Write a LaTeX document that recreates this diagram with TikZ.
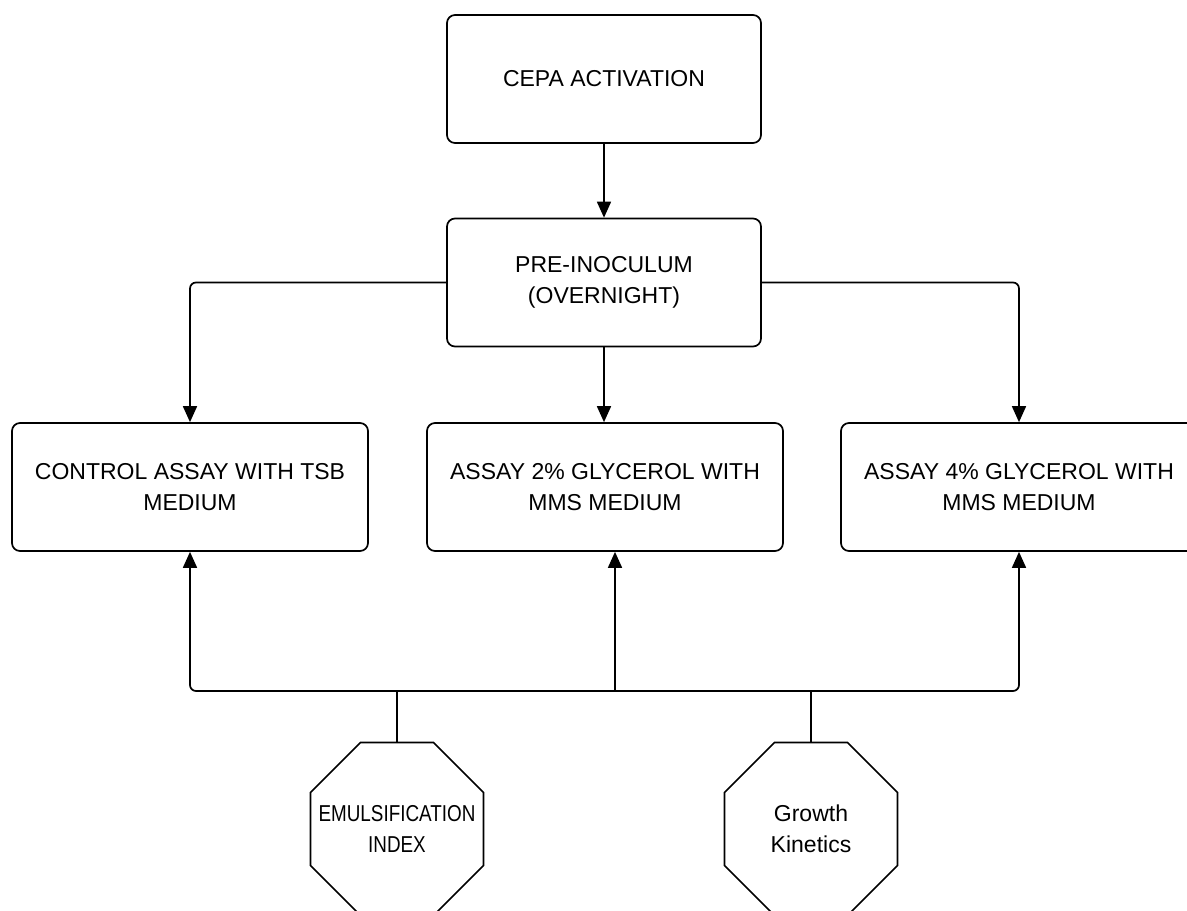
\documentclass[tikz,border=0pt]{standalone}
\usepackage{fontspec}
\setmainfont{Liberation Sans}
\usetikzlibrary{arrows.meta,calc}
\begin{document}
\begin{tikzpicture}[x=1pt,y=-1pt,
  box/.style={draw,line width=1.7pt,rounded corners=8pt,inner sep=0pt,align=center,
    font=\fontsize{23}{31}\selectfont},
  octtext/.style={inner sep=0pt,minimum width=173pt,minimum height=173pt,align=center,
    font=\fontsize{23}{31}\selectfont},
  octline/.style={line width=1.7pt,line join=miter},
  conn/.style={line width=1.7pt,rounded corners=6pt},
  arr/.style={conn,-{Triangle[length=16pt,width=14pt]}}]
\useasboundingbox (0,0) rectangle (1187,911);
\node[box,minimum width=314pt,minimum height=128pt] (top) at (604,79) {CEPA ACTIVATION};
\node[box,minimum width=314pt,minimum height=128pt] (pre) at (604,282.5) {PRE-INOCULUM\\(OVERNIGHT)};
\node[box,minimum width=356pt,minimum height=128pt] (ctrl) at (190,487) {CONTROL ASSAY WITH TSB\\MEDIUM};
\node[box,minimum width=356pt,minimum height=128pt] (g2) at (605,487) {ASSAY 2\% GLYCEROL WITH\\MMS MEDIUM};
\node[box,minimum width=356pt,minimum height=128pt] (g4) at (1019,487) {ASSAY 4\% GLYCEROL WITH\\MMS MEDIUM};
\node[octtext] (e1) at (397,829) {\scalebox{0.82}[1]{EMULSIFICATION}\\\scalebox{0.82}[1]{INDEX}};
\node[octtext] (e2) at (811,829) {Growth\\Kinetics};
\foreach \n in {e1,e2}{
  \draw[octline] ($(\n.center)+(-36.5,-86.5)$) -- ($(\n.center)+(36.5,-86.5)$)
    -- ($(\n.center)+(86.5,-36.5)$) -- ($(\n.center)+(86.5,36.5)$)
    -- ($(\n.center)+(36.5,86.5)$) -- ($(\n.center)+(-36.5,86.5)$)
    -- ($(\n.center)+(-86.5,36.5)$) -- ($(\n.center)+(-86.5,-36.5)$) -- cycle;
}
\coordinate (bus) at (615,691);
\draw[arr] (top.south) -- (pre.north);
\draw[arr] (pre.west) -| (ctrl.north);
\draw[arr] (pre.east) -| (g4.north);
\draw[arr] (pre.south) -- (pre.south |- g2.north);
\draw[conn] (e1.north) -- (e1.north |- bus);
\draw[conn] (e2.north) -- (e2.north |- bus);
\draw[arr] (e1.north |- bus) -| (ctrl.south);
\draw[arr] (e2.north |- bus) -| (g4.south);
\draw[conn] (e1.north |- bus) -- (e2.north |- bus);
\draw[arr] (bus) -- (bus |- g2.south);
\end{tikzpicture}
\end{document}
